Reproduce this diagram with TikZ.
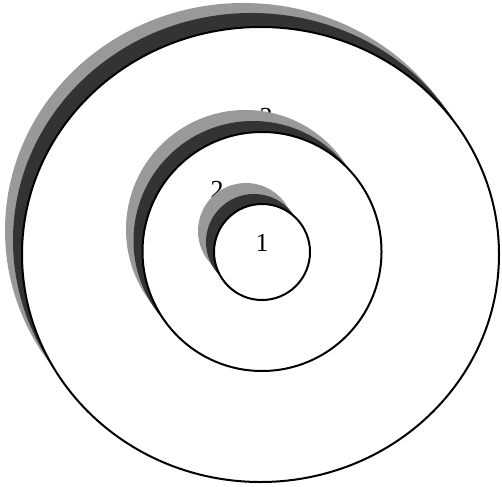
\documentclass[tikz,border=0pt]{standalone}
\usepackage{fontspec}
\setmainfont{Liberation Serif}
\begin{document}
\begin{tikzpicture}[x=1pt,y=-1pt,
  lightshade/.style={fill=black!40},
  darkshade/.style={fill=black!80},
  disc/.style={draw=black,fill=white,line width=2pt},
  num/.style={font=\fontsize{26}{26}\selectfont,inner sep=0pt}]
  \useasboundingbox (0,0) rectangle (502,486);
  % outer ring 3 with its two shadows
  \fill[lightshade] (243.5,230.5) ellipse (238.5pt and 227.5pt);
  \fill[darkshade] (251.5,240.5) ellipse (238.5pt and 227.5pt);
  \filldraw[disc] (260.5,254.5) ellipse (238.5pt and 227.5pt);
  \node[num] (lbl3) at (266,117) {3};
  % middle ring 2
  \fill[lightshade] (245.5,229.5) circle (119.5pt);
  \fill[darkshade] (253,240.5) circle (119.5pt);
  \filldraw[disc] (262,251.5) circle (119.5pt);
  \node[num] (lbl2) at (217,189.5) {2};
  % inner ring 1
  \fill[lightshade] (246,231) circle (48pt);
  \fill[darkshade] (254,242) circle (48pt);
  \filldraw[disc] (262,252) circle (48pt);
  \node[num] (lbl1) at (262,242.5) {1};
\end{tikzpicture}
\end{document}
